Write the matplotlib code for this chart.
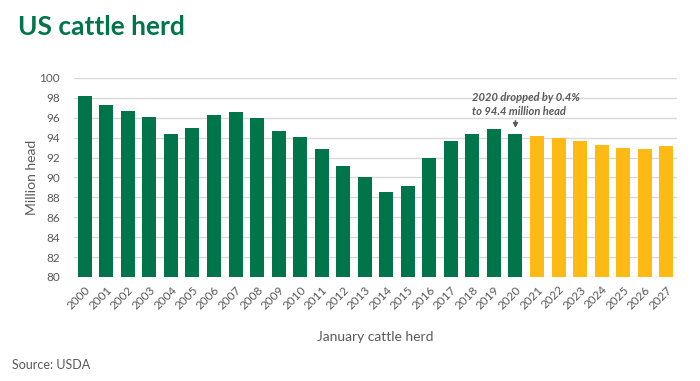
import matplotlib
matplotlib.use('Agg')
import matplotlib.pyplot as plt

years = [str(y) for y in range(2000, 2028)]
herd_actual = [98.2, 97.3, 96.7, 96.1, 94.4, 95.0, 96.3, 96.6, 96.0, 94.7,
               94.1, 92.9, 91.2, 90.1, 88.5, 89.1, 92.0, 93.7, 94.4, 94.9, 94.4]
herd_forecast = [94.2, 94.0, 93.7, 93.3, 93.0, 92.9, 93.2]
yticks = list(range(80, 101, 2))

green = '#00744A'
gold = '#FDB914'
grey = '#595959'

plt.rcParams['font.family'] = ['Lato', 'DejaVu Sans']

fig = plt.figure(figsize=(7, 3.81), dpi=100)
ax = fig.add_axes([74/700, 1-277/381, 603/700, 199/381])

values = herd_actual + herd_forecast
colors = [green]*len(herd_actual) + [gold]*len(herd_forecast)
x = range(len(years))
ax.bar(x, values, width=0.65, color=colors, zorder=3)

ax.set_ylim(80, 100)
ax.set_xlim(-0.5, len(years)-0.5)
ax.set_yticks(yticks)
ax.set_xticks(list(x))
ax.set_xticklabels(years, rotation=45, ha='right', rotation_mode='anchor')
ax.tick_params(axis='both', length=0, labelsize=8.5, colors=grey)
ax.tick_params(axis='x', pad=5)
ax.tick_params(axis='y', pad=10)
ax.grid(axis='y', color='#D9D9D9', linewidth=1, zorder=0)
for s in ax.spines.values():
    s.set_visible(False)

ax.set_ylabel('Million head', fontsize=10, color=grey, labelpad=1)
ax.set_xlabel('January cattle herd', fontsize=10, color=grey, labelpad=14)

i20 = years.index('2020')
ax.annotate('', xy=(i20, herd_actual[-1] + 0.3), xytext=(i20, 96.0),
            arrowprops=dict(arrowstyle='-|>', color=grey, lw=1, mutation_scale=7))
ax.text(i20 - 2.0, 96.05, '2020 dropped by 0.4%\nto 94.4 million head',
        fontsize=8, fontstyle='italic', fontweight='bold', color=grey,
        ha='left', va='bottom', linespacing=1.35)

fig.text(18/700, 1-27/381, 'US cattle herd', fontsize=19, fontweight='bold',
         color=green, va='center', ha='left')
fig.text(12/700, 1-365/381, 'Source: USDA', fontsize=9, color=grey,
         va='center', ha='left')

fig.savefig('out.png', dpi=100)
